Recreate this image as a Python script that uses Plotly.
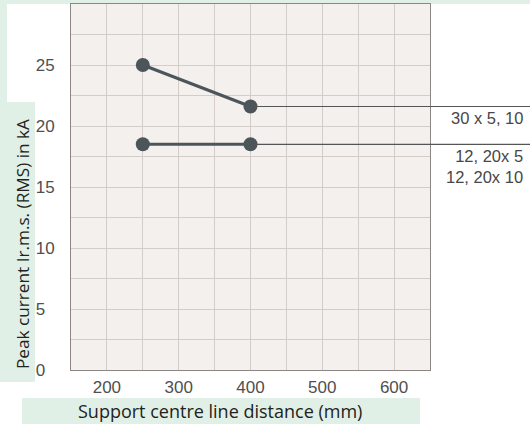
import plotly.graph_objects as go

# data
distance = [250, 400]
upper_current = [25.0, 21.6]
lower_current = [18.5, 18.5]
upper_label = "30 x 5, 10"
lower_label = "12, 20x 5<br>12, 20x 10"
x_ticks = [200, 300, 400, 500, 600]
y_ticks = [0, 5, 10, 15, 20, 25]
y_tick_text = ["0\u2007", "5\u2007", "10", "15", "20", "25"]

line_col = "#4b555a"
green = "#e1f0e6"

fig = go.Figure()

for ys in (upper_current, lower_current):
    fig.add_trace(go.Scatter(
        x=distance, y=ys, mode="lines+markers",
        line=dict(color=line_col, width=3),
        marker=dict(color=line_col, size=14),
        showlegend=False, hoverinfo="skip"
    ))

# green panels behind the titles (paper coords from pixel layout)
W, H, L, T, B, R = 530, 424, 71, 4, 54, 100
pw, ph = W - L - R, H - T - B
def px(x): return (x - L) / pw
def py(y): return (H - B - y) / ph

bg = [(0, 0, W, T), (0, 0, 7, 382), (7, 102, 35, 382), (22, 398, 420, H)]
shapes = []
for x0, y0, x1, y1 in bg:
    shapes.append(dict(type="rect", xref="paper", yref="paper",
                       x0=px(x0), x1=px(x1), y0=py(y0), y1=py(y1),
                       fillcolor=green, line=dict(width=0), layer="below"))

# leader lines from the last point out to the labels
for ys in (upper_current, lower_current):
    shapes.append(dict(type="line", xref="x", yref="y",
                       x0=distance[-1], x1=650, y0=ys[-1], y1=ys[-1],
                       line=dict(color="#555", width=1.2)))
    shapes.append(dict(type="line", xref="paper", yref="y",
                       x0=1, x1=px(W), y0=ys[-1], y1=ys[-1],
                       line=dict(color="#555", width=1.2)))

lab_font = dict(family="Liberation Sans", size=16.5, color="#474747")
annotations = [
    dict(text=upper_label, xref="paper", yref="y", x=px(525), y=upper_current[-1],
         xanchor="right", yanchor="top", yshift=-1, showarrow=False, font=lab_font),
    dict(text=lower_label, xref="paper", yref="y", x=px(525), y=lower_current[-1],
         xanchor="right", yanchor="top", yshift=-1, showarrow=False, align="right",
         font=lab_font),
    dict(text="Peak current Ir.m.s. (RMS) in kA", xref="paper", yref="paper",
         x=px(22), y=py(244), xanchor="center", yanchor="middle",
         textangle=-90, showarrow=False,
         font=dict(family="Open Sans", size=17.2, color="#222")),
    dict(text="Support centre line distance (mm)", xref="paper", yref="paper",
         x=px(220), y=py(411), xanchor="center", yanchor="middle", showarrow=False,
         font=dict(family="Open Sans", size=18, color="#222")),
]

tick_font = dict(family="Liberation Sans", size=17, color="#505050")
fig.update_layout(
    width=W, height=H,
    margin=dict(l=L, r=R, t=T, b=B),
    paper_bgcolor="white",
    plot_bgcolor="#f3f0ee",
    shapes=shapes,
    annotations=annotations,
    xaxis=dict(range=[150, 650], tickvals=x_ticks, showgrid=True,
               gridcolor="#d3ccc9", gridwidth=1,
               minor=dict(dtick=50, showgrid=True, gridcolor="#d3ccc9"),
               showline=True, mirror=True, linecolor="#8c8785", linewidth=1,
               zeroline=False, ticks="", ticklabelstandoff=2, tickfont=tick_font),
    yaxis=dict(range=[0, 30], tickvals=y_ticks, ticktext=y_tick_text, showgrid=True,
               gridcolor="#d3ccc9", gridwidth=1,
               minor=dict(dtick=2.5, showgrid=True, gridcolor="#d3ccc9"),
               showline=True, mirror=True, linecolor="#8c8785", linewidth=1,
               zeroline=False, ticks="", ticklabelstandoff=12, tickfont=tick_font),
)

# drop the default body margin so the figure sits at the window's corner
fig.write_html("out.html", config={"displayModeBar": False},
               post_script="document.body.style.margin='0';")
